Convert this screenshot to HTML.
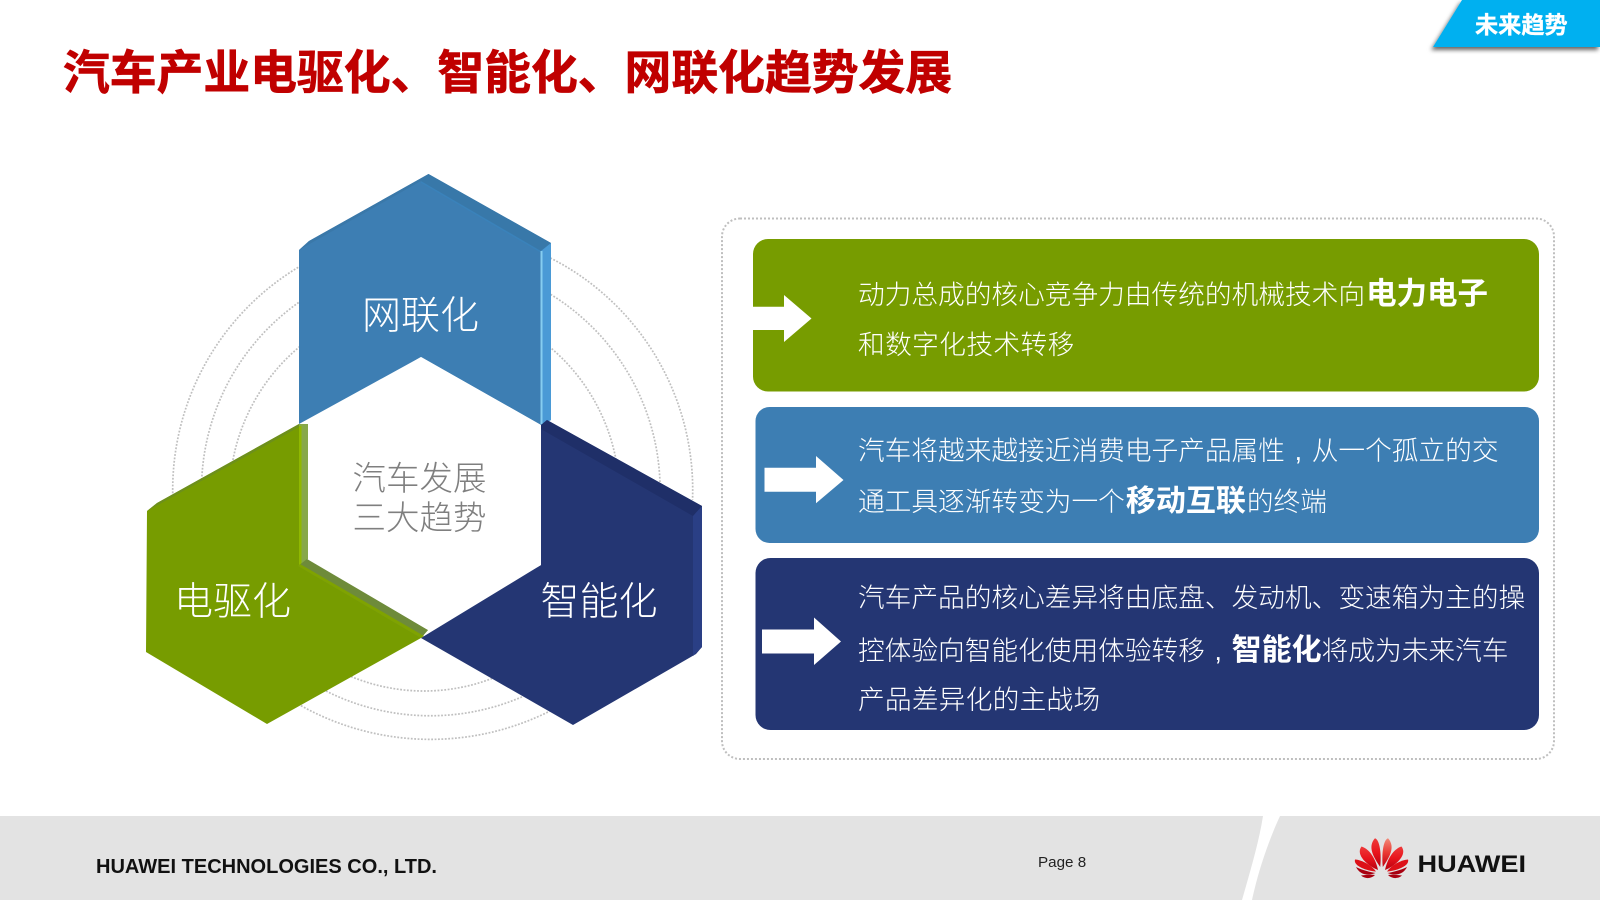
<!DOCTYPE html>
<html lang="zh"><head><meta charset="utf-8"><title>汽车产业电驱化、智能化、网联化趋势发展</title>
<style>
html,body{margin:0;padding:0;background:#fff;width:1600px;height:900px;overflow:hidden}
svg{display:block}
text{font-family:"Liberation Sans","Noto Sans CJK SC",sans-serif}
.cjk{font-family:"Noto Sans CJK SC","WenQuanYi Zen Hei",sans-serif}
.t{font-size:26.7px;fill:#fff;font-weight:300}
.b{font-weight:700}
.cm{font-family:"Liberation Sans",sans-serif;font-weight:400}
.l{font-size:39px;fill:#fff;text-anchor:middle;font-weight:300}
</style></head><body>
<svg width="1600" height="900" viewBox="0 0 1600 900" xmlns="http://www.w3.org/2000/svg">
<defs>
<filter id="sh" x="-10%" y="-20%" width="120%" height="160%"><feDropShadow dx="-2" dy="3" stdDeviation="2" flood-color="#000" flood-opacity=".6"/></filter>
<linearGradient id="pet" x1="0" y1="0" x2="0" y2="1"><stop offset="0" stop-color="#ee3a3a"/><stop offset=".5" stop-color="#e8141c"/><stop offset="1" stop-color="#b80010"/></linearGradient>
<linearGradient id="pet2" x1="0" y1="0" x2="0" y2="1"><stop offset="0" stop-color="#f28a78"/><stop offset=".5" stop-color="#ea3a34"/><stop offset="1" stop-color="#c00010"/></linearGradient>
</defs>
<rect width="1600" height="900" fill="#fff"/>

<!-- title -->
<text class="cjk" x="63" y="89" font-size="46.8" font-weight="700" fill="#c00000" stroke="#c00000" stroke-width=".7">汽车产业电驱化、智能化、网联化趋势发展</text>

<!-- tag -->
<polygon points="1462,0 1600,0 1600,47 1433,47" fill="#00b0f0" filter="url(#sh)"/>
<text class="cjk" x="1475" y="33" font-size="23.2" font-weight="700" fill="#fff" stroke="#fff" stroke-width=".3">未来趋势</text>

<!-- dotted ring arcs -->
<g fill="none" stroke="#bfbfbf" stroke-width="1.7" stroke-dasharray="1.8 1.6">
<path d="M172.900,500 A260,260 0 1 1 692.500,500"/>
<path d="M201.500,490 A229.300,229.300 0 1 1 660.100,490"/>
<path d="M231.300,470 A195,195 0 0 1 617.700,470"/>
<path d="M298,704 A266,266 0 0 0 552,710"/>
<path d="M326,691 A232,232 0 0 0 524,696"/>
<path d="M351,676.500 A191,191 0 0 0 492,678.500"/>
</g>

<!-- blue hexagon -->
<polygon points="428.500,174 551,243 551,420 541,425 421,357 299,424 299,250 309,241" fill="#3d7eb3"/>
<polygon points="428.500,174 551,243 541,251 421,181" fill="#3878a9"/>
<polygon points="428.500,174 421,181 299,250 309,241" fill="#3a78a9"/>
<line x1="421" y1="182" x2="541" y2="252" stroke="#3a82ba" stroke-width="1.500"/>
<polygon points="541,251 551,243 551,420 541,425" fill="#4a9ad6"/>
<rect x="540.500" y="251" width="2" height="173" fill="#86cdf0"/>

<!-- navy hexagon -->
<polygon points="541,425 547,420 702,506 702,647 696,654 573,725 421,638 541,565" fill="#243673"/>
<polygon points="541,425 547,420 702,506 693,516 541,429" fill="#1f2f68"/>
<polygon points="693,516 702,506 702,647 693,656" fill="#2a3f85"/>

<!-- green hexagon -->
<polygon points="299,424 299,566 428,630 421,638 267,724 146,652 147,511 157,503" fill="#779c00"/>
<polygon points="299,424 157,503 147,511 299,427" fill="#6d8f1c"/>
<polygon points="299,424 308,424 308,559 299,566" fill="#87a84a"/>
<polygon points="299,426 301.500,426 301.500,564 299,566" fill="#90b800"/>
<polygon points="298,566 307,559 428,630 421,638" fill="#6e8b3a"/>
<polygon points="298,566 300,564 424,636 421,638" fill="#7fa300"/>
<polygon points="308,424 421,357 541,425 541,565 428,630 308,559" fill="#fff"/>

<!-- hex labels -->
<text class="cjk l" x="420.500" y="329">网联化</text>
<text class="cjk l" x="232.500" y="615">电驱化</text>
<text class="cjk l" x="599" y="615">智能化</text>
<g class="cjk" font-size="33.500" fill="#7f7f7f" text-anchor="middle" font-weight="300">
<text x="419.500" y="490">汽车发展</text>
<text x="419.500" y="529.500">三大趋势</text>
</g>

<!-- right panel -->
<rect x="722" y="218.500" width="832" height="540.500" rx="18" ry="18" fill="none" stroke="#bfbfbf" stroke-width="2" stroke-dasharray="2 2"/>
<rect x="753" y="239" width="786" height="152.500" rx="15" fill="#779c00"/>
<rect x="755.500" y="407" width="783.500" height="136" rx="14" fill="#3d7eb3"/>
<rect x="755.500" y="558" width="783.500" height="172" rx="15" fill="#243673"/>

<!-- arrows -->
<polygon points="753,306.700 784,306.700 784,295 811.500,318.500 784,342 784,330 753,330" fill="#fff"/>
<polygon points="764.500,467.700 816,467.700 816,456 843.500,480 816,503.300 816,491.700 764.500,491.700" fill="#fff"/>
<polygon points="762,629.500 814,629.500 814,617.500 841,641.500 814,665 814,653.500 762,653.500" fill="#fff"/>

<!-- panel text -->
<g class="cjk">
<text class="t cjk" x="858" y="304">动力总成的核心竞争力由传统的机械技术向<tspan class="b" font-size="30.500" dx="1">电力电子</tspan></text>
<text class="t cjk" x="858" y="354" letter-spacing=".4">和数字化技术转移</text>
<text class="t cjk" x="858" y="460">汽车将越来越接近消费电子产品属性<tspan class="cm" dx="9.600">,</tspan><tspan dx="9.700">从一个孤立的交</tspan></text>
<text class="t cjk" x="858" y="511">通工具逐渐转变为一个<tspan class="b" font-size="30" dx="1">移动互联</tspan><tspan dx="1">的终端</tspan></text>
<text class="t cjk" x="858" y="607">汽车产品的核心差异将由底盘、发动机、变速箱为主的操</text>
<text class="t cjk" x="858" y="660">控体验向智能化使用体验转移<tspan class="cm" dx="9.600">,</tspan><tspan class="b" font-size="30" dx="9.700">智能化</tspan>将成为未来汽车</text>
<text class="t cjk" x="858" y="709" letter-spacing=".25">产品差异化的主战场</text>
</g>

<!-- footer -->
<rect x="0" y="816" width="1600" height="84" fill="#e3e3e3"/>
<path d="M1263,816 L1280,816 C1268,842 1258,872 1252,900 L1242,900 C1250,872 1259,842 1263,816Z" fill="#fff"/>
<text x="96" y="873" font-size="20" font-weight="700" fill="#111" textLength="341" lengthAdjust="spacingAndGlyphs">HUAWEI TECHNOLOGIES CO., LTD.</text>
<text x="1038" y="867" font-size="15.200" fill="#222">Page 8</text>

<!-- logo -->
<g>
<path d="M1380.200,867 C1374,858 1367,847 1375,838.300 C1380,840 1381.500,855 1380.200,867Z" fill="url(#pet)"/>
<path d="M1378,870 C1368,866 1355,855 1361.500,846.500 C1370,849 1376,860 1378,870Z" fill="url(#pet)"/>
<path d="M1376,871.500 C1367,871 1353,866 1355,859.500 C1363,860 1372,866 1376,871.500Z" fill="#dd1018"/>
<path d="M1375.500,873 C1368,876 1360,875 1356,867 C1362,870 1370,872 1375.500,873Z" fill="#a80010"/>
<path d="M1375,875 C1371,879 1365,879 1361,875.500 C1365,875 1370,874.500 1375,875Z" fill="#a80010"/>
</g>
<g transform="matrix(-1 0 0 1 2763 0)">
<path d="M1380.200,867 C1374,858 1367,847 1375,838.300 C1380,840 1381.500,855 1380.200,867Z" fill="url(#pet2)"/>
<path d="M1378,870 C1368,866 1355,855 1361.500,846.500 C1370,849 1376,860 1378,870Z" fill="url(#pet)"/>
<path d="M1376,871.500 C1367,871 1353,866 1355,859.500 C1363,860 1372,866 1376,871.500Z" fill="#dd1018"/>
<path d="M1375.500,873 C1368,876 1360,875 1356,867 C1362,870 1370,872 1375.500,873Z" fill="#a80010"/>
<path d="M1375,875 C1371,879 1365,879 1361,875.500 C1365,875 1370,874.500 1375,875Z" fill="#a80010"/>
</g>
<text x="1417.500" y="872" font-size="24" font-weight="700" fill="#111" textLength="108.500" lengthAdjust="spacingAndGlyphs">HUAWEI</text>
</svg>
</body></html>
